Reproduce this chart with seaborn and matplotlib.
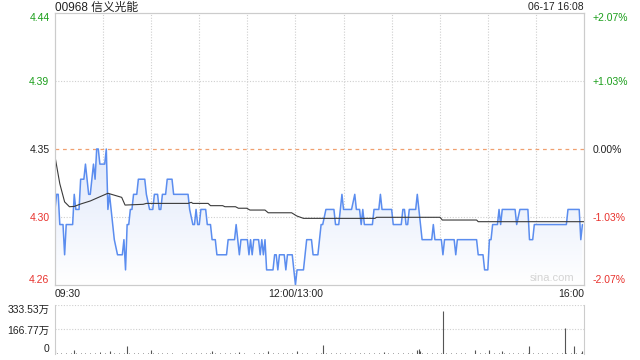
import numpy as np
import pandas as pd
import matplotlib
matplotlib.use("Agg")
import matplotlib.pyplot as plt
import seaborn as sns
from matplotlib.colors import LinearSegmentedColormap

# ---------------- data ----------------
title = "00968 信义光能"
stamp = "06-17 16:08"
prev_close = 4.35

# trading minutes since 09:30 (lunch break removed: 150 = 12:00/13:00, 330 = 16:00)
price_min = [0, 1, 2, 3, 5, 6, 7, 11, 12, 13, 15, 16, 18, 19, 21, 22, 24, 25, 26, 27,
             28, 31, 32, 33, 34, 36, 37, 39, 42, 43, 44, 45, 46, 47, 48, 49, 51, 52, 56, 57,
             59, 61, 62, 64, 65, 66, 67, 69, 70, 73, 74, 83, 84, 86, 87, 88, 89, 90, 91, 94,
             95, 97, 98, 100, 101, 107, 108, 112, 113, 114, 115, 116, 120, 121, 122, 123, 124, 127, 128, 129,
             130, 131, 132, 136, 137, 138, 139, 140, 143, 144, 145, 148, 149, 150, 151, 155, 156, 157, 160, 161,
             164, 165, 166, 167, 169, 174, 175, 177, 178, 179, 180, 185, 187, 188, 190, 191, 192, 193, 198, 199,
             202, 203, 204, 210, 211, 216, 217, 218, 219, 220, 221, 225, 226, 227, 228, 229, 235, 236, 237, 241,
             242, 243, 249, 250, 251, 263, 264, 267, 268, 270, 271, 272, 273, 276, 277, 278, 279, 287, 288, 290,
             295, 296, 298, 299, 319, 320, 327, 328, 329]
price_val = [4.31, 4.32, 4.32, 4.30, 4.30, 4.28, 4.30, 4.30, 4.32, 4.31, 4.31, 4.33, 4.33, 4.34, 4.32, 4.32, 4.34, 4.33, 4.35, 4.35,
             4.34, 4.34, 4.35, 4.31, 4.32, 4.30, 4.29, 4.28, 4.28, 4.29, 4.27, 4.30, 4.30, 4.31, 4.31, 4.32, 4.32, 4.33, 4.33, 4.32,
             4.31, 4.31, 4.32, 4.32, 4.31, 4.31, 4.32, 4.32, 4.33, 4.33, 4.32, 4.32, 4.31, 4.30, 4.30, 4.31, 4.30, 4.30, 4.31, 4.31,
             4.30, 4.30, 4.29, 4.29, 4.28, 4.28, 4.29, 4.29, 4.30, 4.29, 4.28, 4.29, 4.29, 4.28, 4.29, 4.28, 4.29, 4.29, 4.28, 4.29,
             4.28, 4.29, 4.27, 4.27, 4.28, 4.28, 4.27, 4.28, 4.28, 4.27, 4.28, 4.28, 4.27, 4.26, 4.27, 4.27, 4.28, 4.29, 4.29, 4.28,
             4.28, 4.29, 4.30, 4.30, 4.31, 4.31, 4.30, 4.30, 4.31, 4.32, 4.31, 4.31, 4.32, 4.31, 4.31, 4.30, 4.31, 4.30, 4.30, 4.31,
             4.31, 4.32, 4.31, 4.31, 4.30, 4.30, 4.31, 4.31, 4.30, 4.30, 4.31, 4.31, 4.32, 4.31, 4.30, 4.29, 4.29, 4.30, 4.29, 4.29,
             4.28, 4.29, 4.29, 4.28, 4.29, 4.29, 4.28, 4.28, 4.27, 4.27, 4.29, 4.29, 4.30, 4.30, 4.31, 4.30, 4.31, 4.31, 4.30, 4.31,
             4.31, 4.29, 4.29, 4.30, 4.30, 4.31, 4.31, 4.29, 4.30]

avg_min = [0, 3, 6, 9, 12, 16, 22, 28, 33, 41.6, 43.7, 55, 57, 83, 85, 86, 95.5, 97, 104.6, 106,
           112.6, 114.4, 119.6, 121.6, 131, 133, 147.6, 150.8, 155, 199.6, 200.6, 240.2, 241.6, 263, 264, 330]
avg_val = [4.345, 4.327, 4.315, 4.3118, 4.312, 4.3136, 4.3156, 4.3184, 4.3207, 4.318, 4.3129, 4.3134, 4.314, 4.314, 4.3147, 4.314, 4.314, 4.3125, 4.3125, 4.3118,
           4.3118, 4.3108, 4.3108, 4.3096, 4.3096, 4.3078, 4.3078, 4.3057, 4.3041, 4.3041, 4.3048, 4.3048, 4.303, 4.303, 4.3019, 4.3019]

# volume (万 shares)
vol_small_min = list(range(1, 330, 3))
vol_small_val = [8, 5, 10, 6, 4, 9, 7, 5, 6, 11, 4, 8, 6, 5, 9, 7, 4, 6, 8, 5,
                 7, 4, 6, 9, 5, 3, 7, 6, 4, 8, 5, 6, 4, 7, 9, 5, 6, 4, 8, 5,
                 3, 6, 5, 7, 4, 9, 6, 5, 8, 4, 6, 7, 5, 3, 6, 8, 5, 4, 7, 6,
                 5, 9, 4, 6, 5, 7, 8, 4, 6, 5, 10, 6, 4, 7, 5, 8, 6, 4, 9, 5,
                 6, 7, 4, 5, 8, 6, 3, 7, 5, 9, 6, 4, 8, 5, 7, 6, 4, 9, 5, 6,
                 8, 4, 7, 5, 6, 9, 4, 7, 6, 8]
vol_big_min = [0, 12, 34, 45, 60, 98, 115, 133, 151, 167, 205, 226, 227, 228, 242, 262, 271, 279, 296, 318, 324, 329]
vol_big_val = [27, 27, 20, 54, 27, 18, 16, 18, 20, 61, 15, 24, 33, 20, 292, 24, 27, 20, 57, 175, 57, 20]

left_labels = ["4.44", "4.39", "4.35", "4.30", "4.26"]
right_labels = ["+2.07%", "+1.03%", "0.00%", "-1.03%", "-2.07%"]
label_colors = ["#1a9e1a", "#1a9e1a", "#222222", "#e8322d", "#e8322d"]
vol_labels = ["0", "166.77万", "333.53万"]
vol_ticks = [0, 166.77, 333.53]
x_ticks = [0, 150, 330]
x_labels = ["09:30", "12:00/13:00", "16:00"]
grid_minutes = [30, 60, 90, 120, 150, 180, 210, 240, 270, 300]

# ---------------- style ----------------
sns.set_theme(style="white")
plt.rcParams['font.family'] = ['Liberation Sans', 'Noto Sans CJK SC', 'DejaVu Sans']

fig = plt.figure(figsize=(6.4, 3.6), dpi=100)
W, H = 640, 360
ax = fig.add_axes([55 / W, 1 - 285 / H, 529 / W, 272 / H])
axv = fig.add_axes([55 / W, 1 - 354 / H, 529 / W, 49 / H])

span = 0.09
lo, hi = prev_close - span, prev_close + span
price_ticks = [hi, prev_close + span / 2, prev_close, prev_close - span / 2, lo]

df_p = pd.DataFrame({"m": price_min, "p": price_val})
df_a = pd.DataFrame({"m": avg_min, "p": avg_val})

# gradient fill under price line
poly = ax.fill_between(df_p["m"], df_p["p"], lo, color="none", lw=0)
cmap = LinearSegmentedColormap.from_list("g", ["#ffffff", "#dfe8fb"])
grad = np.linspace(1, 0, 256).reshape(-1, 1)
im = ax.imshow(grad, extent=[0, 330, lo, max(price_val)], aspect="auto", cmap=cmap,
               origin="upper", zorder=1)
im.set_clip_path(poly.get_paths()[0], transform=ax.transData)

sns.lineplot(data=df_p, x="m", y="p", ax=ax, color="#5b8def", lw=1.1, zorder=3)
sns.lineplot(data=df_a, x="m", y="p", ax=ax, color="#3a3a3a", lw=0.8, zorder=4)

ax.set_xlim(0, 330)
ax.set_ylim(lo, hi)
for gm in grid_minutes:
    ax.axvline(gm, color="#cfcfcf", lw=0.8, ls=(0, (1, 1.5)), zorder=0)
for pt in price_ticks[1:4]:
    if pt == prev_close:
        ax.axhline(pt, color="#f0a070", lw=0.9, ls=(0, (3, 3)), zorder=2)
    else:
        ax.axhline(pt, color="#cfcfcf", lw=0.8, ls=(0, (1, 1.5)), zorder=0)

ax.set_yticks(price_ticks)
ax.set_yticklabels(left_labels)
ax.tick_params(axis="y", length=0, pad=4, labelsize=7.5)
for i, t in enumerate(ax.get_yticklabels()):
    t.set_color(label_colors[i])
ax.get_yticklabels()[0].set_va("top")
ax.get_yticklabels()[-1].set_va("bottom")

ax.set_xticks(x_ticks)
ax.set_xticklabels(x_labels)
ax.tick_params(axis="x", length=0, pad=3, labelsize=7.5, labelcolor="#222222")
xl = ax.get_xticklabels()
xl[0].set_ha("left")
xl[-1].set_ha("right")
ax.set_xlabel("")
ax.set_ylabel("")

ax2 = ax.twinx()
ax2.set_ylim(lo, hi)
ax2.set_yticks(price_ticks)
ax2.set_yticklabels(right_labels)
ax2.tick_params(axis="y", length=0, pad=6, labelsize=7.5)
for i, t in enumerate(ax2.get_yticklabels()):
    t.set_color(label_colors[i])
ax2.get_yticklabels()[0].set_va("top")
ax2.get_yticklabels()[-1].set_va("bottom")

for a in (ax, ax2):
    for s in a.spines.values():
        s.set_color("#cccccc")
        s.set_linewidth(0.8)

# volume
axv.vlines(vol_small_min, 0, vol_small_val, color="#555555", lw=0.7)
axv.vlines(vol_big_min, 0, vol_big_val, color="#555555", lw=0.8)
axv.set_xlim(0, 330)
axv.set_ylim(0, 333.53)
for gm in grid_minutes:
    pass
for vt in vol_ticks[1:]:
    axv.axhline(vt, color="#cfcfcf", lw=0.8, ls=(0, (1, 1.5)), zorder=0)
axv.set_xticks([])
axv.set_yticks(vol_ticks)
axv.set_yticklabels(vol_labels)
axv.tick_params(axis="y", length=0, pad=4, labelsize=7.5, labelcolor="#222222")
axv.get_yticklabels()[0].set_va("bottom")
axv.get_yticklabels()[-1].set_va("top")
for k, s in axv.spines.items():
    if k in ("left", "right"):
        s.set_color("#cccccc")
        s.set_linewidth(0.8)
    else:
        s.set_visible(False)

fig.text(55 / W, 1 - 7.5 / H, title, ha="left", va="center", fontsize=8.5, color="#222222")
fig.text(584 / W, 1 - 7.5 / H, stamp, ha="right", va="center", fontsize=7.5, color="#222222")
fig.text(552 / W, 1 - 278 / H, "sina.com", ha="center", va="center", fontsize=8, color="#d4d4d4")

fig.savefig("out.png", dpi=100)
